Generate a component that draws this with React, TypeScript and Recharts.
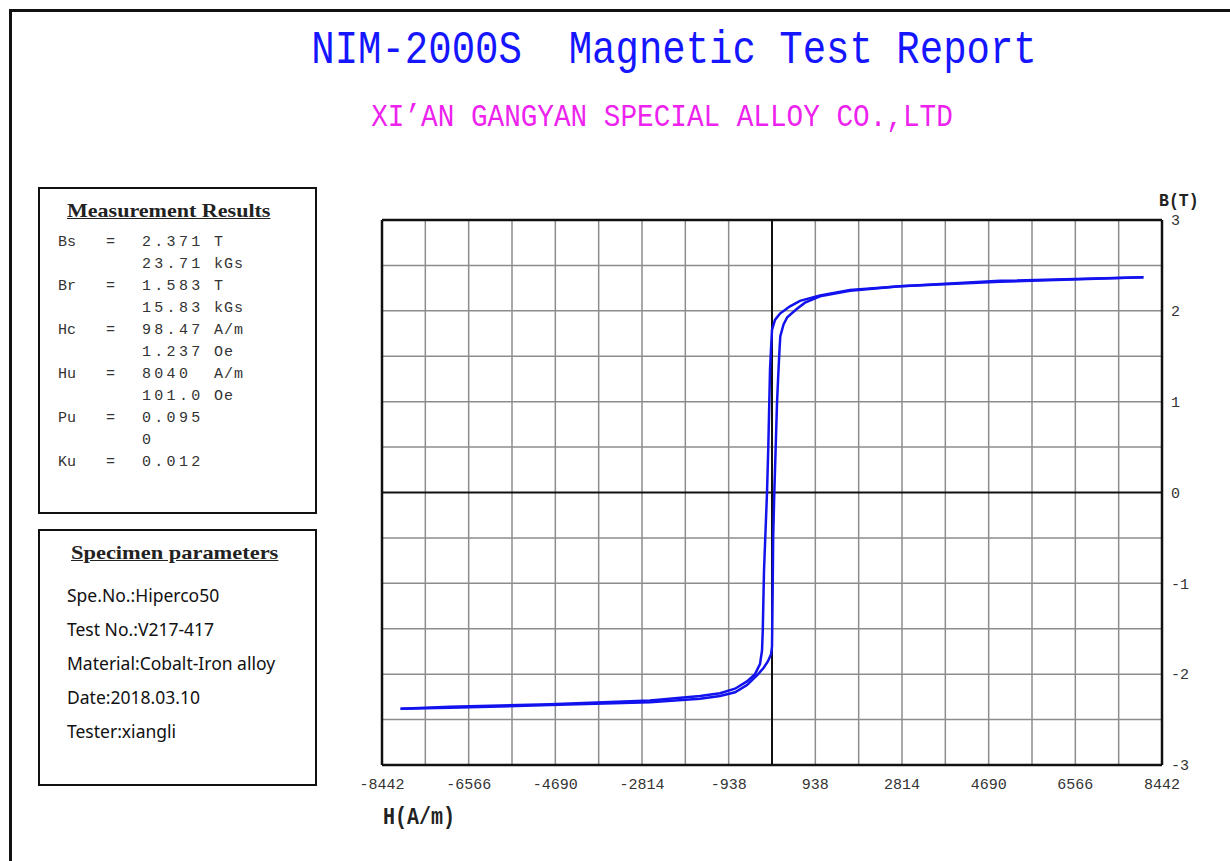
import { Line, LineChart, ReferenceLine, XAxis, YAxis } from 'recharts';

// descending branch: from +Hu down to -Hu (H in A/m, B in T)
const downH = [8040, 4935, 2771, 1688, 1039, 606, 390, 173, 65, 0, -22, -43, -80, -108, -173, -200, -216, -260, -368, -541, -800, -1125, -1558, -2641, -4805, -6970, -8040];
const downB = [2.371, 2.33, 2.27, 2.23, 2.17, 2.11, 2.05, 1.97, 1.9, 1.79, 1.57, 1.35, 0.5, 0, -0.86, -1.52, -1.74, -1.89, -2.0, -2.08, -2.16, -2.21, -2.24, -2.29, -2.33, -2.36, -2.38];

// ascending branch: from -Hu back up to +Hu
const upH = [-8040, -6970, -4805, -2641, -1558, -1125, -800, -541, -420, -300, -180, -90, -20, 0, 5, 15, 25, 50, 80, 108, 130, 160, 180, 250, 330, 535, 714, 1039, 1688, 2771, 4935, 8040];
const upB = [-2.38, -2.37, -2.34, -2.31, -2.27, -2.24, -2.2, -2.12, -2.06, -2.0, -1.93, -1.86, -1.78, -1.7, -1.5, -1.05, -0.5, 0, 0.5, 0.98, 1.23, 1.55, 1.72, 1.85, 1.93, 2.02, 2.09, 2.16, 2.22, 2.27, 2.32, 2.371];

const xTicks = [-8442, -6566, -4690, -2814, -938, 938, 2814, 4690, 6566, 8442];
const yTicks = [-3, -2, -1, 0, 1, 2, 3];
const xGrid = Array.from({ length: 17 }, (_, i) => -8442 + (i + 1) * 938).filter((v) => v !== 0);
const yGrid = [-2.5, -2, -1.5, -1, -0.5, 0.5, 1, 1.5, 2, 2.5];

const resultLabels = ['Bs', '', 'Br', '', 'Hc', '', 'Hu', '', 'Pu', '', 'Ku'];
const resultValues = ['2.371', '23.71', '1.583', '15.83', '98.47', '1.237', '8040', '101.0', '0.095', '0', '0.012'];
const resultUnits = ['T', 'kGs', 'T', 'kGs', 'A/m', 'Oe', 'A/m', 'Oe', '', '', ''];

const specimenLines = ['Spe.No.:Hiperco50', 'Test No.:V217-417', 'Material:Cobalt-Iron alloy', 'Date:2018.03.10', 'Tester:xiangli'];

const downData = downH.map((h, i) => ({ h, b: downB[i] }));
const upData = upH.map((h, i) => ({ h, b: upB[i] }));

const mono = '"Liberation Mono", "DejaVu Sans Mono", monospace';
const serif = '"Liberation Serif", "DejaVu Serif", serif';

const boxTitle: React.CSSProperties = {
  position: 'absolute',
  top: 11,
  fontFamily: serif,
  fontWeight: 'bold',
  fontSize: 19,
  color: '#222',
  textDecoration: 'underline',
  whiteSpace: 'pre',
  transform: 'scaleX(1.16)',
  transformOrigin: 'left center',
};

export default function App() {
  return (
    <div style={{ position: 'absolute', left: 0, top: 0, width: 1230, height: 861, background: '#fff', overflow: 'hidden' }}>
      {/* outer frame */}
      <div style={{ position: 'absolute', left: 9, top: 9, width: 1219, height: 870, borderLeft: '3px solid #111', borderTop: '3px solid #111', borderRight: '1px solid #777' }} />

      <div style={{ position: 'absolute', left: 0, width: 1348, top: 31, textAlign: 'center', fontFamily: mono, fontSize: 39, lineHeight: '40px', color: '#1515ff', whiteSpace: 'pre', transform: 'scaleY(1.18)' }}>
        NIM-2000S  Magnetic Test Report
      </div>
      <div style={{ position: 'absolute', left: 0, width: 1324, top: 104, textAlign: 'center', fontFamily: mono, fontSize: 27.7, lineHeight: '28px', color: '#ee22ee', whiteSpace: 'pre', transform: 'scaleY(1.12)' }}>
        XI’AN GANGYAN SPECIAL ALLOY CO.,LTD
      </div>

      {/* measurement results */}
      <div style={{ position: 'absolute', left: 38, top: 187, width: 275, height: 323, border: '2px solid #111' }}>
        <div style={{ ...boxTitle, left: 27 }}>Measurement Results</div>
        {resultValues.map((v, i) => (
          <div key={i} style={{ position: 'absolute', top: 45 + i * 22, left: 0, fontFamily: mono, fontSize: 15, color: '#333', whiteSpace: 'pre' }}>
            <span style={{ position: 'absolute', left: 18 }}>{resultLabels[i]}</span>
            <span style={{ position: 'absolute', left: 66 }}>{resultLabels[i] ? '=' : ''}</span>
            <span style={{ position: 'absolute', left: 102, letterSpacing: 3.3 }}>{v}</span>
            <span style={{ position: 'absolute', left: 174, letterSpacing: 1 }}>{resultUnits[i]}</span>
          </div>
        ))}
      </div>

      {/* specimen parameters */}
      <div style={{ position: 'absolute', left: 38, top: 529, width: 275, height: 253, border: '2px solid #111' }}>
        <div style={{ ...boxTitle, left: 31, transform: 'scaleX(1.18)' }}>Specimen parameters</div>
        {specimenLines.map((t, i) => (
          <div key={t} style={{ position: 'absolute', left: 27, top: 52 + i * 34, fontFamily: '"Noto Sans", "Open Sans", sans-serif', fontSize: 17.5, color: '#111', whiteSpace: 'pre' }}>
            {t}
          </div>
        ))}
      </div>

      <div style={{ position: 'absolute', left: 1159, top: 191, fontFamily: mono, fontWeight: 'bold', fontSize: 16.5, color: '#222', transform: 'scaleY(1.15)' }}>B(T)</div>
      <div style={{ position: 'absolute', left: 383, top: 804, fontFamily: mono, fontWeight: 'bold', fontSize: 20, color: '#222', transform: 'scaleY(1.2)', transformOrigin: 'left top' }}>H(A/m)</div>

      <div style={{ position: 'absolute', left: 0, top: 0 }}>
        <LineChart width={1230} height={861} margin={{ top: 220, right: 8, bottom: 66, left: 382 }}>
          <XAxis
            dataKey="h"
            type="number"
            domain={[-8442, 8442]}
            ticks={xTicks}
            interval={0}
            axisLine={false}
            tickLine={false}
            height={30}
            tickMargin={7}
            tick={{ fontFamily: mono, fontSize: 15, fill: '#333' }}
            allowDataOverflow
          />
          <YAxis
            dataKey="b"
            type="number"
            orientation="right"
            domain={[-3, 3]}
            ticks={yTicks}
            interval={0}
            axisLine={false}
            tickLine={false}
            width={60}
            tickMargin={3}
            tick={{ fontFamily: mono, fontSize: 15, fill: '#333' }}
            allowDataOverflow
          />
          {xGrid.map((v) => (
            <ReferenceLine key={'x' + v} x={v} stroke="#8c8c8c" strokeWidth={1.5} />
          ))}
          {yGrid.map((v) => (
            <ReferenceLine key={'y' + v} y={v} stroke="#8c8c8c" strokeWidth={1.5} />
          ))}
          <ReferenceLine x={0} stroke="#111" strokeWidth={2} />
          <ReferenceLine y={0} stroke="#111" strokeWidth={2} />
          <ReferenceLine x={-8442} stroke="#111" strokeWidth={2.5} />
          <ReferenceLine x={8442} stroke="#111" strokeWidth={2.5} />
          <ReferenceLine y={-3} stroke="#111" strokeWidth={2.5} />
          <ReferenceLine y={3} stroke="#111" strokeWidth={2.5} />
          <Line data={downData} dataKey="b" type="linear" dot={false} stroke="#1212ee" strokeWidth={2.5} isAnimationActive={false} />
          <Line data={upData} dataKey="b" type="linear" dot={false} stroke="#1212ee" strokeWidth={2.5} isAnimationActive={false} />
        </LineChart>
      </div>
    </div>
  );
}
